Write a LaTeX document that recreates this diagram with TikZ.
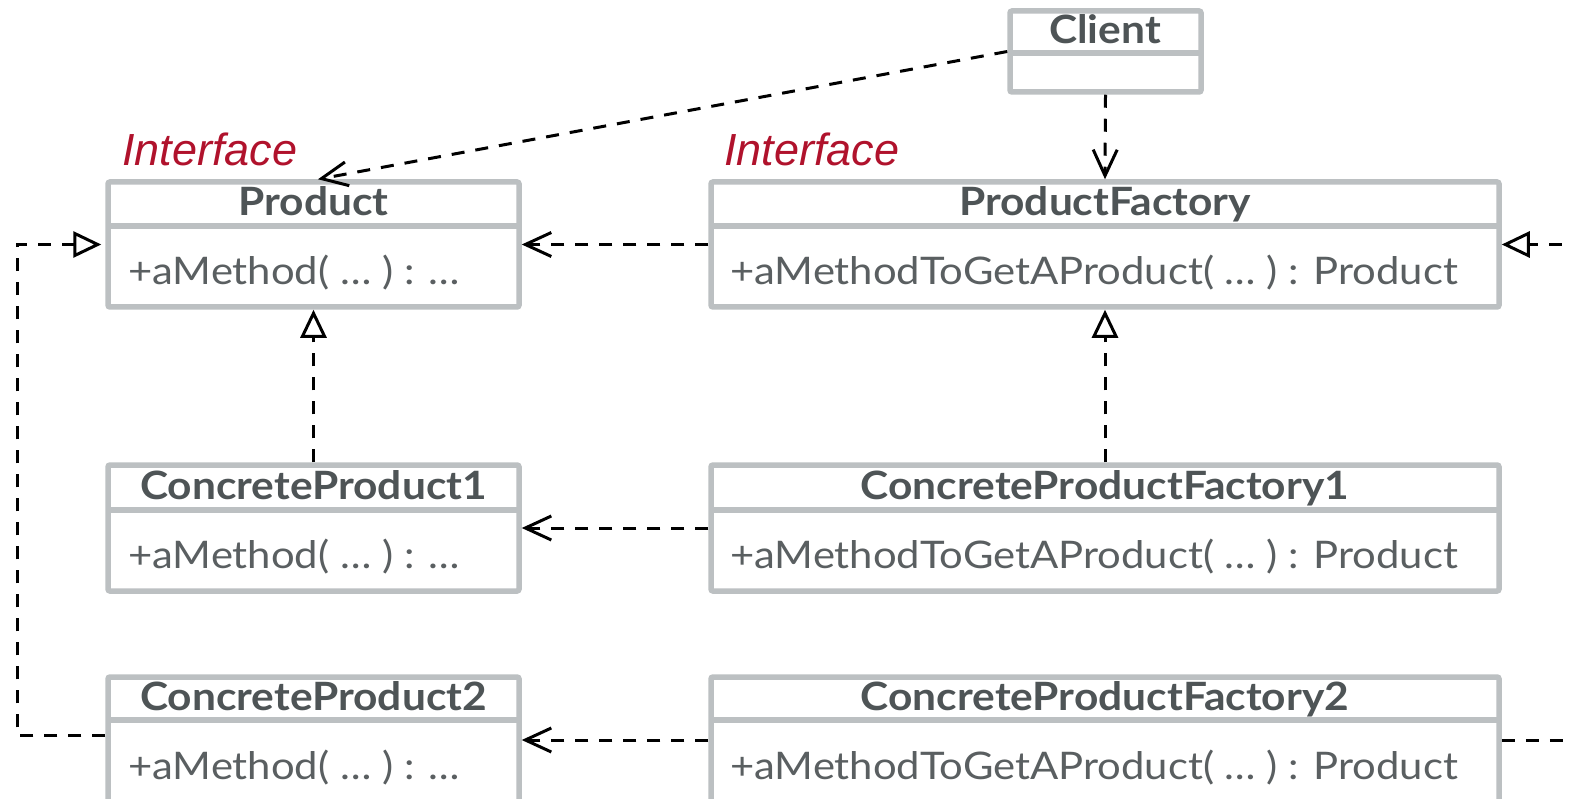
\documentclass[tikz,border=0pt]{standalone}
\usepackage{fontspec}
\setmainfont{Lato}
\newfontfamily\hdrfont[FakeStretch=1.09]{Lato}
\newfontfamily\methfont[FakeStretch=1.10]{Lato}
\newfontfamily\iffont{Liberation Sans}
\usetikzlibrary{arrows.meta}
\definecolor{boxgray}{HTML}{BCC0C2}
\definecolor{txtgray}{HTML}{4E5456}
\definecolor{methgray}{HTML}{5A5F61}
\definecolor{ifred}{HTML}{B0122C}
\tikzset{
  umlbox/.style={draw=boxgray, line width=5.5pt, rounded corners=2pt, fill=white, inner sep=0pt},
  divline/.style={draw=boxgray, line width=5.5pt},
  hdr/.style={anchor=base, inner sep=0pt, text=txtgray, font=\hdrfont\fontsize{39}{44}\selectfont\bfseries},
  meth/.style={anchor=base west, inner sep=0pt, text=methgray, font=\methfont\fontsize{38}{44}\selectfont},
  iface/.style={anchor=base west, inner sep=0pt, text=ifred, font=\iffont\fontsize{45}{50}\selectfont\itshape},
  dep/.style={black, line width=3pt, dash pattern=on 13pt off 11pt, -{Straight Barb[length=26pt,width=24pt,line width=3pt]}},
  real/.style={black, line width=3pt, dash pattern=on 13pt off 11pt, -{Triangle[open,length=28pt,width=26pt,line width=3pt]}}
}
\begin{document}
\begin{tikzpicture}[x=1pt,y=-1pt]
\useasboundingbox (0,0) rectangle (1570,799);
\clip (0,0) rectangle (1570,799);
% boxes
\node[umlbox, minimum width=191pt, minimum height=81pt] (client) at (1105.5,51.5) {};
\node[umlbox, minimum width=411pt, minimum height=125pt] (product) at (313.5,244.5) {};
\node[umlbox, minimum width=788pt, minimum height=125pt] (pf) at (1105,244.5) {};
\node[umlbox, minimum width=411pt, minimum height=126pt] (cp1) at (313.5,528) {};
\node[umlbox, minimum width=788pt, minimum height=126pt] (cpf1) at (1105,528) {};
\node[umlbox, minimum width=411pt, minimum height=126pt] (cp2) at (313.5,740) {};
\node[umlbox, minimum width=788pt, minimum height=126pt] (cpf2) at (1105,740) {};
% dividers
\draw[divline] (1010,53) -- (1201,53);
\draw[divline] (108,226) -- (519,226);
\draw[divline] (711,226) -- (1499,226);
\draw[divline] (108,510) -- (519,510);
\draw[divline] (711,510) -- (1499,510);
\draw[divline] (108,720) -- (519,720);
\draw[divline] (711,720) -- (1499,720);
% headers
\node[hdr] (tclient) at (1105,44) {Client};
\node[hdr] (tproduct) at (313.5,216) {Product};
\node[hdr] (tpf) at (1105,216) {ProductFactory};
\node[hdr] (tcp1) at (313.5,499) {ConcreteProduct1};
\node[hdr] (tcpf1) at (1105,499) {ConcreteProductFactory1};
\node[hdr] (tcp2) at (313.5,710) {ConcreteProduct2};
\node[hdr] (tcpf2) at (1105,710) {ConcreteProductFactory2};
% methods
\node[meth] (mproduct) at (128,285) {+aMethod( … ) : …};
\node[meth] (mpf) at (730,285) {+aMethodToGetAProduct( … ) : Product};
\node[meth] (mcp1) at (128,568) {+aMethod( … ) : …};
\node[meth] (mcpf1) at (730,568) {+aMethodToGetAProduct( … ) : Product};
\node[meth] (mcp2) at (128,779) {+aMethod( … ) : …};
\node[meth] (mcpf2) at (730,779) {+aMethodToGetAProduct( … ) : Product};
% interface labels
\node[iface] (if1) at (122,166) {Interface};
\node[iface] (if2) at (724,166) {Interface};
% connectors
\coordinate (l2) at (17,735);
\coordinate (r2) at (1620,740);
\draw[dep] (client.west) -- (product.north -| 318,0);
\draw[dep] (client.south) -- (pf.north);
\draw[dep] (pf.west) -- (product.east);
\draw[real] (cp1.north) -- (product.south);
\draw[real] (cpf1.north) -- (pf.south);
\draw[dep] (cpf1.west) -- (cp1.east);
\draw[real, shorten >=4pt] (cp2.west |- l2) -- (l2) |- (product.west);
\draw[dep] (cpf2.west) -- (cp2.east);
\draw[real] (cpf2.east) -- (r2) |- (pf.east);
\end{tikzpicture}
\end{document}
